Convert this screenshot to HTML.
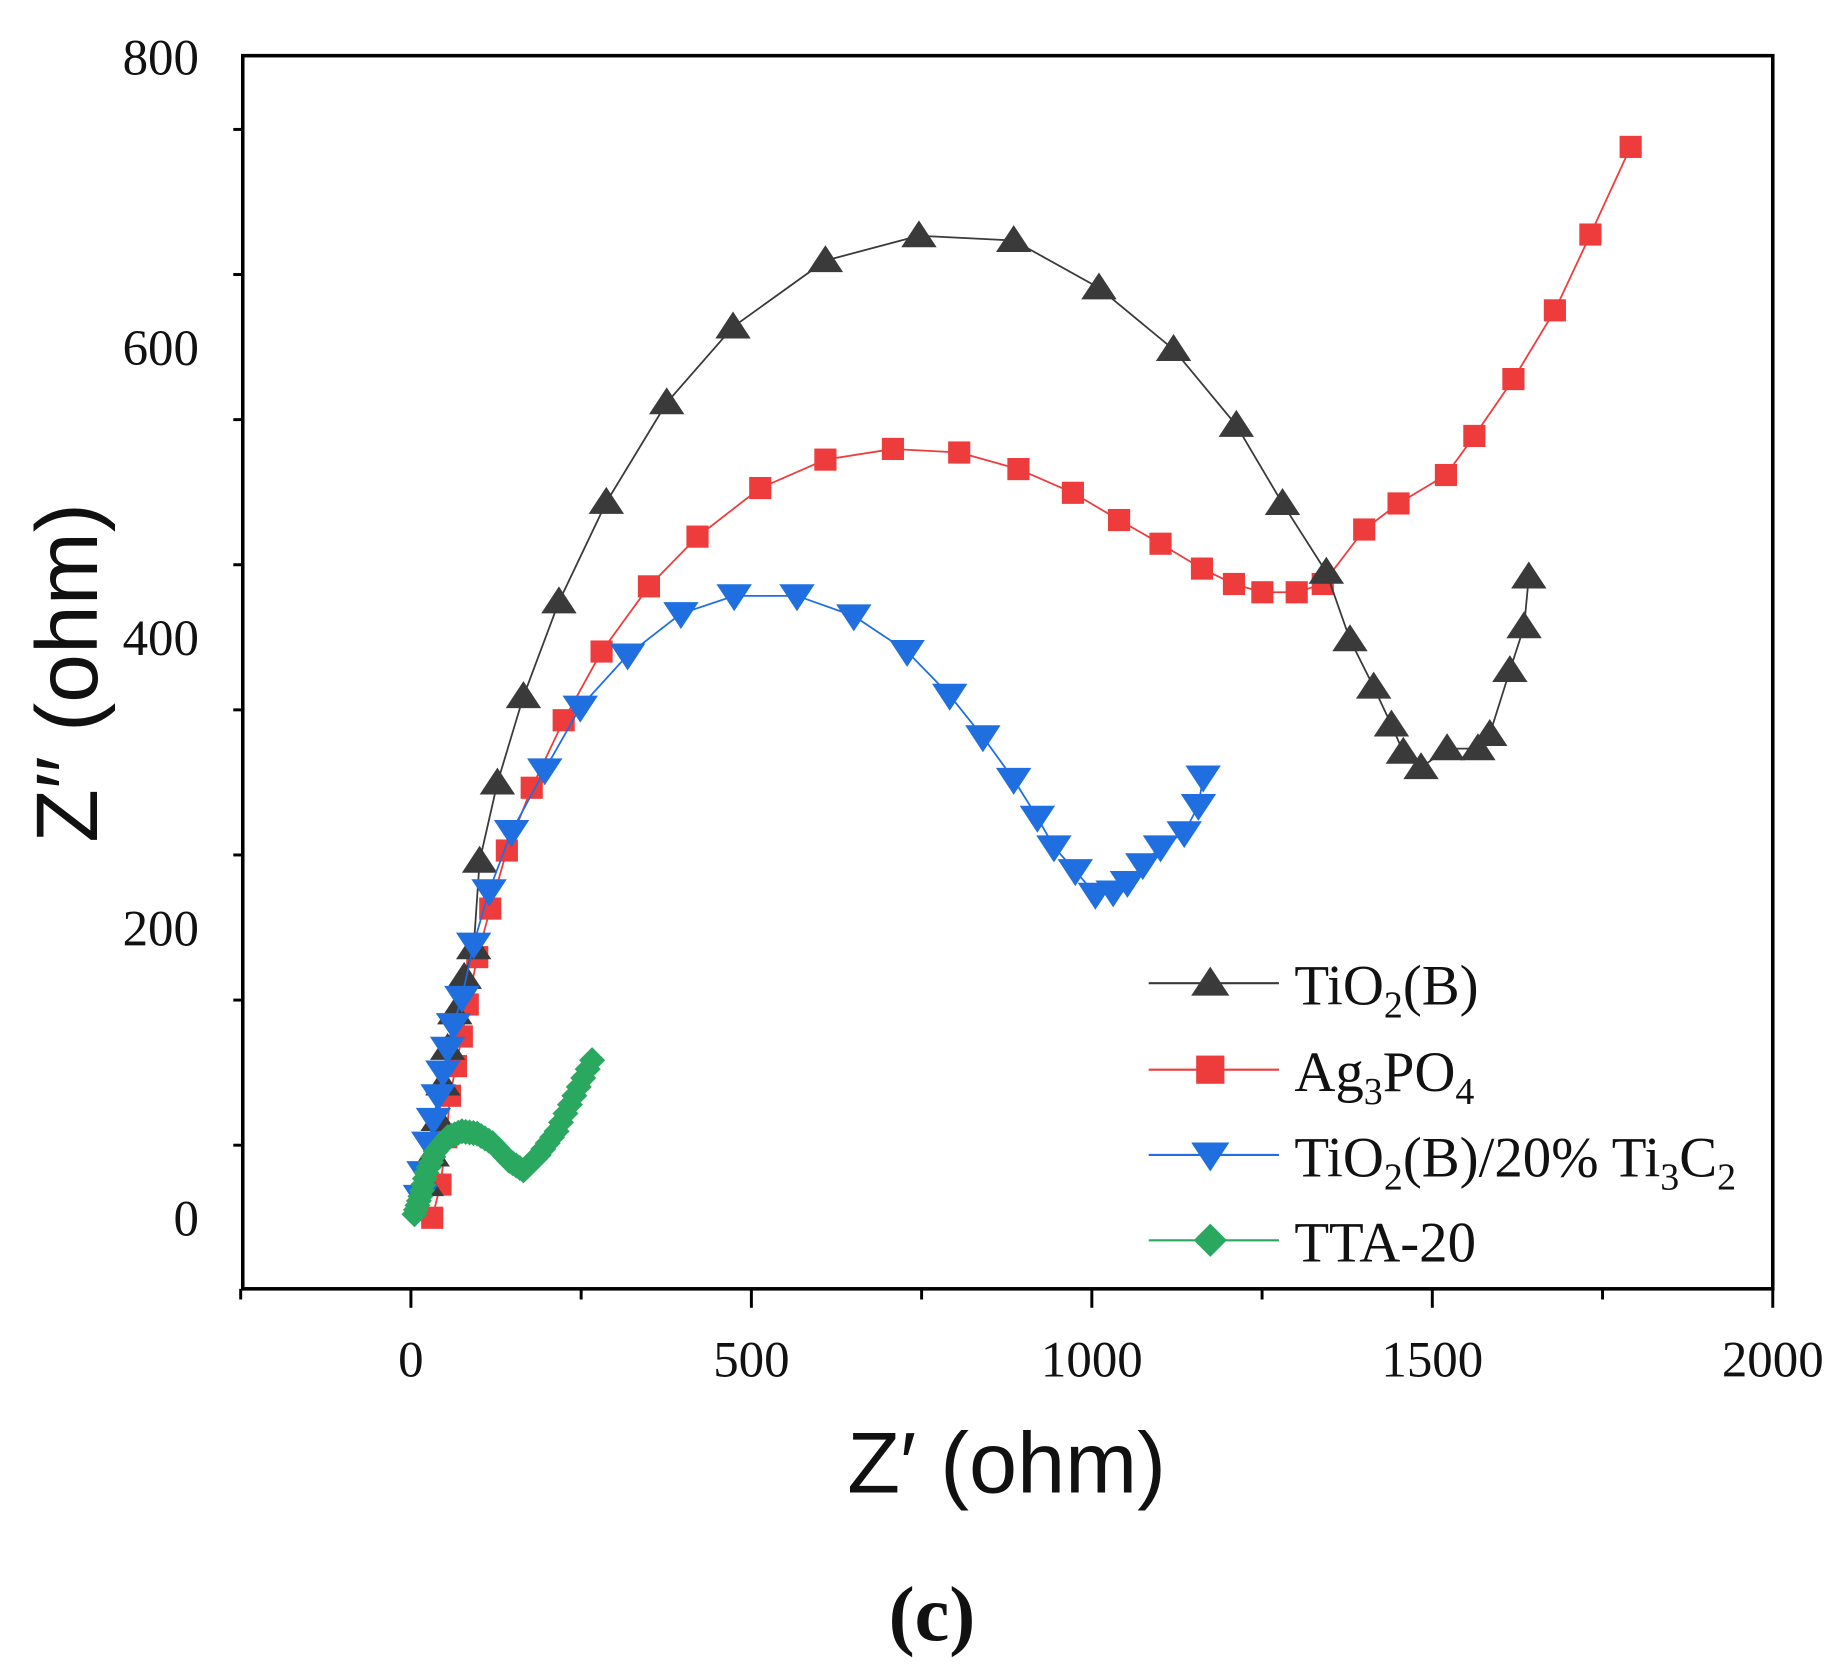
<!DOCTYPE html>
<html><head><meta charset="utf-8"><style>body{margin:0;background:#fff}svg{display:block}</style></head>
<body>
<svg id="s" width="1845" height="1675" viewBox="0 0 1558 1414" preserveAspectRatio="none" xmlns="http://www.w3.org/2000/svg">
<rect x="0" y="0" width="1558" height="1414" fill="#fff"/>
<g id="ax" stroke="#000" stroke-width="3" fill="none">
<rect x="205" y="47" width="1292" height="1041"/>
</g>
<g id="ticks" stroke="#000" stroke-width="2.5"></g>
<g font-family="Liberation Serif, serif" font-size="43" fill="#111">
<text x="168" y="63" text-anchor="end">800</text>
<text x="168" y="308" text-anchor="end">600</text>
<text x="168" y="553" text-anchor="end">400</text>
<text x="168" y="798" text-anchor="end">200</text>
<text x="168" y="1043" text-anchor="end">0</text>
<text x="347" y="1162" text-anchor="middle">0</text>
<text x="634.5" y="1162" text-anchor="middle">500</text>
<text x="922" y="1162" text-anchor="middle">1000</text>
<text x="1209.5" y="1162" text-anchor="middle">1500</text>
<text x="1497" y="1162" text-anchor="middle">2000</text>
</g>
<text x="850" y="1260" text-anchor="middle" font-family="Liberation Sans, sans-serif" font-size="73" fill="#111">Z′ (ohm)</text>
<text transform="translate(82,568) rotate(-90)" text-anchor="middle" font-family="Liberation Sans, sans-serif" font-size="74" fill="#111">Z′′ (ohm)</text>
<text x="787" y="1385" text-anchor="middle" font-family="Liberation Serif, serif" font-size="66" font-weight="bold" fill="#111">(c)</text>
<g id="series"></g>
<g font-family="Liberation Serif, serif" font-size="48" fill="#111">
<text x="1093" y="848">TiO<tspan font-size="32" dy="11">2</tspan><tspan dy="-11">(B)</tspan></text>
<text x="1093" y="921">Ag<tspan font-size="32" dy="11">3</tspan><tspan dy="-11">PO</tspan><tspan font-size="32" dy="11">4</tspan></text>
<text x="1093" y="993">TiO<tspan font-size="32" dy="11">2</tspan><tspan dy="-11">(B)/20% Ti</tspan><tspan font-size="32" dy="11">3</tspan><tspan dy="-11">C</tspan><tspan font-size="32" dy="11">2</tspan></text>
<text x="1093" y="1065">TTA-20</text>
</g>
</svg>
<script>
const NS="http://www.w3.org/2000/svg";
const t=document.getElementById('ticks');
function ln(g,x1,y1,x2,y2,c,w){const l=document.createElementNS(NS,'line');l.setAttribute('x1',x1);l.setAttribute('y1',y1);l.setAttribute('x2',x2);l.setAttribute('y2',y2);l.setAttribute('stroke',c);l.setAttribute('stroke-width',w);g.appendChild(l);}
for(let v=-50;v<=800;v+=100){const y=1028-v*1.225;if(y<47||y>1088)continue;ln(t,205,y,v%200==0?190:197,y,'#000',2.5);}
for(let v=-250;v<=2000;v+=250){const x=347+v*0.575;ln(t,x,1088,x,v%500==0?1104:1097,'#000',2.5);}
const S=document.getElementById('series');
function mk(type,x,y,c,r){let e;
 if(type=='tu'){e=document.createElementNS(NS,'polygon');e.setAttribute('points',`${x},${y-r} ${x-r*1.15},${y+r*0.75} ${x+r*1.15},${y+r*0.75}`);}
 else if(type=='td'){e=document.createElementNS(NS,'polygon');e.setAttribute('points',`${x},${y+r} ${x-r*1.15},${y-r*0.75} ${x+r*1.15},${y-r*0.75}`);}
 else if(type=='sq'){e=document.createElementNS(NS,'rect');e.setAttribute('x',x-r*0.85);e.setAttribute('y',y-r*0.85);e.setAttribute('width',r*1.7);e.setAttribute('height',r*1.7);}
 else {e=document.createElementNS(NS,'polygon');e.setAttribute('points',`${x},${y-r} ${x+r},${y} ${x},${y+r} ${x-r},${y}`);}
 e.setAttribute('fill',c);S.appendChild(e);}
function series(pts,type,c,lc,r){const p=document.createElementNS(NS,'polyline');p.setAttribute('points',pts.map(a=>a.join(',')).join(' '));p.setAttribute('fill','none');p.setAttribute('stroke',lc);p.setAttribute('stroke-width',1.5);S.appendChild(p);pts.forEach(a=>mk(type,a[0],a[1],c,r));}
const black=[[360,1000],[365,975],[370,945],[374,915],[378,885],[384,855],[392,825],[400,800],[405,727],[420,661],[442,588],[472,508],[512,424],[563,340],[619,276],[697,220],[776,199],[856,203],[928,243],[991,295],[1044,359],[1083,425],[1120,483],[1140,540],[1160,580],[1175,612],[1185,635],[1200,648],[1222,632],[1248,632],[1258,620],[1275,566],[1287,529],[1291,487]];
const red=[[365,1028],[372,1000],[377,960],[380,925],[385,900],[390,875],[395,848],[403,808],[414,767],[428,718],[449,665],[476,608],[508,550],[548,495],[589,453],[642,412],[697,388],[754,379],[810,382],[860,396],[906,416],[945,439],[980,459],[1015,480],[1042,493],[1066,500],[1095,500],[1117,493],[1152,447],[1181,425],[1221,401],[1245,368],[1278,320],[1313,262],[1343,198],[1377,124]];
const blue=[[355,1010],[358,990],[362,965],[366,945],[370,925],[374,905],[378,885],[383,865],[390,842],[400,797],[413,752],[432,702],[460,650],[490,597],[530,553],[575,518],[620,503],[673,503],[721,520],[766,550],[802,587],[830,622],[856,658],[876,690],[890,715],[908,735],[925,755],[940,753],[952,745],[965,730],[980,715],[1000,703],[1012,680],[1016,656]];
const gk=[[350,1025],[355,1010],[360,990],[368,972],[378,960],[390,955],[403,957],[416,965],[430,980],[442,988],[455,975],[470,955],[485,925],[500,895]];
const green=[];for(let i=0;i<gk.length-1;i++){for(let k=0;k<4;k++){const f=k/4;green.push([gk[i][0]+(gk[i+1][0]-gk[i][0])*f,gk[i][1]+(gk[i+1][1]-gk[i][1])*f]);}}green.push(gk[gk.length-1]);
series(red,'sq','#ee3b3b','#ee3b3b',11);
series(black,'tu','#3a3a3a','#3a3a3a',13);
series(blue,'td','#1f6fe0','#1f6fe0',13);
series(green,'di','#2aa860','#2aa860',11);
[[830,'tu','#3a3a3a'],[903,'sq','#ee3b3b'],[975,'td','#1f6fe0'],[1047,'di','#2aa860']].forEach(a=>{ln(S,970,a[0],1080,a[0],a[2],1.8);mk(a[1],1022,a[0],a[2],14);});
</script>
</body></html>
